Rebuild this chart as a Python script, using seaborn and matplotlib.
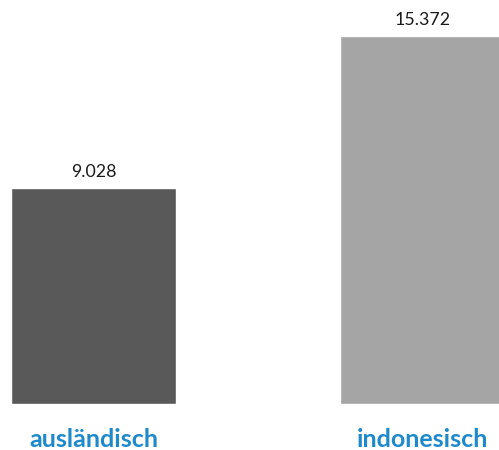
import matplotlib
matplotlib.use("Agg")
import matplotlib.pyplot as plt
import seaborn as sns
import pandas as pd

# Data
categories = ["ausländisch", "indonesisch"]
values = [9028, 15372]
bar_colors = ["#595959", "#A5A5A5"]
label_color = "#1F8ACB"

sns.set_theme(style="white")
plt.rcParams["font.family"] = ["Lato", "DejaVu Sans"]

df = pd.DataFrame({"Herkunft": categories, "Anzahl": values})

fig = plt.figure(figsize=(4.99, 4.50), dpi=100)
ax = fig.add_axes([0, 46 / 450, 1, 404 / 450])

sns.barplot(data=df, x="Herkunft", y="Anzahl", hue="Herkunft",
            palette=bar_colors, width=0.5, saturation=1, legend=False, ax=ax)

ax.set_xlim(-0.2842, 1.2325)
ax.set_ylim(0, 16885)

# Value labels with German thousands separator
for i, v in enumerate(values):
    ax.annotate(f"{v:,}".replace(",", "."), xy=(i, v), xytext=(0, 6),
                textcoords="offset points", ha="center", va="bottom",
                fontsize=12.8, color="#1a1a1a")

ax.set_xlabel("")
ax.set_ylabel("")
ax.set_yticks([])
ax.tick_params(axis="x", length=0, pad=17.5)
for lbl in ax.get_xticklabels():
    lbl.set_fontweight("bold")
    lbl.set_fontsize(18)
    lbl.set_color(label_color)
sns.despine(ax=ax, left=True, bottom=True)

fig.savefig("out.png", dpi=100)
